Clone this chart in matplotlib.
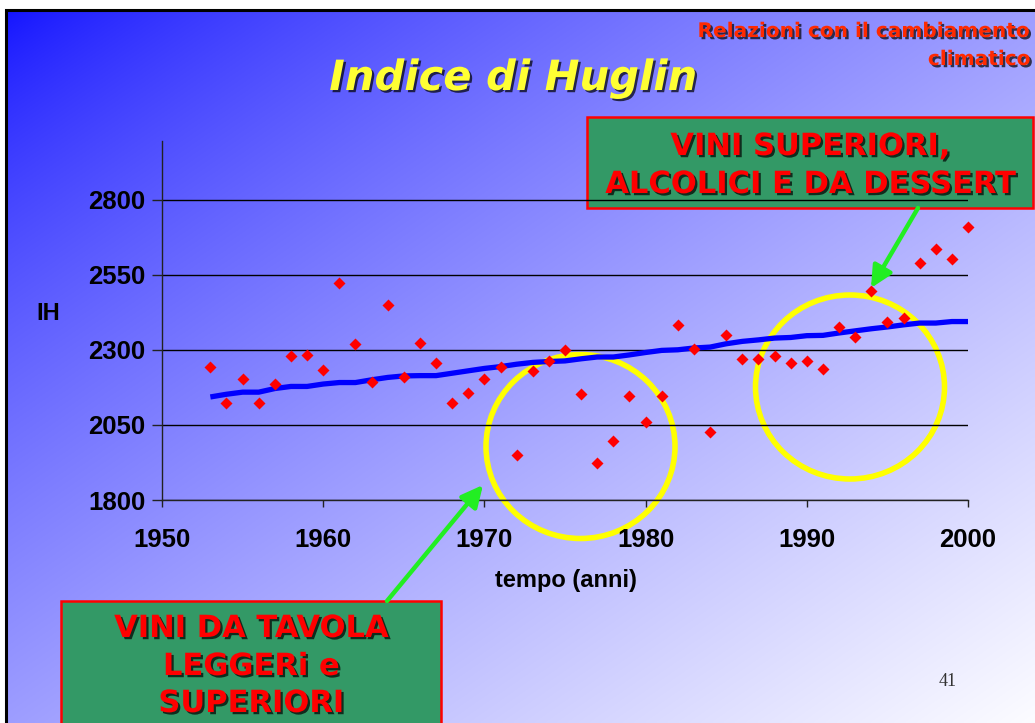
import matplotlib
matplotlib.use("Agg")
import matplotlib.pyplot as plt
import matplotlib.patheffects as pe
from matplotlib.patches import Rectangle, Ellipse, FancyArrowPatch
import numpy as np

# data
years = list(range(1953, 2001))
ih_values = [2243, 2123, 2203, 2123, 2187, 2280, 2282, 2232, 2523, 2320,
             2193, 2450, 2210, 2323, 2257, 2123, 2155, 2203, 2242, 1950,
             2231, 2264, 2298, 2153, 1923, 1997, 2145, 2058, 2146, 2383,
             2303, 2027, 2350, 2270, 2270, 2280, 2257, 2264, 2237, 2377,
             2343, 2497, 2393, 2407, 2590, 2637, 2603, 2710]
ih_trend = [2143, 2152, 2159, 2159, 2171, 2178, 2178, 2186, 2191, 2191,
            2200, 2208, 2213, 2214, 2214, 2222, 2230, 2238, 2244, 2252,
            2258, 2261, 2263, 2270, 2276, 2276, 2283, 2291, 2298, 2300,
            2306, 2309, 2320, 2328, 2333, 2339, 2341, 2347, 2348, 2356,
            2363, 2370, 2376, 2383, 2389, 2389, 2394, 2394]
x_ticks = [1950, 1960, 1970, 1980, 1990, 2000]
y_ticks = [1800, 2050, 2300, 2550, 2800]

W, H = 1035, 723


def fx(px):
    return px / W


def fy(py):
    return 1 - py / H


fig = plt.figure(figsize=(W / 100, H / 100), dpi=100)
fig.patch.set_facecolor('white')

# slide background: diagonal gradient blue -> white
bg = fig.add_axes([fx(5), 0, 1 - fx(5), fy(9)], zorder=-10)
gx = np.linspace(0, 1, 400)[None, :]
gy = np.linspace(0, 1, 300)[:, None]
t = np.clip((gx + gy) / 2, 0, 1) ** 0.75
c0 = np.array([18, 18, 255]) / 255
c1 = np.array([252, 252, 255]) / 255
img = c0[None, None, :] + (c1 - c0)[None, None, :] * t[:, :, None]
bg.imshow(img, aspect='auto', extent=[0, 1, 1, 0], interpolation='bilinear')
bg.set_axis_off()
fig.add_artist(Rectangle((fx(6), -0.05), 1.1, fy(10) + 0.05, transform=fig.transFigure,
                         fill=False, edgecolor='black', lw=2.2, zorder=-9))

# yellow circles and the top box sit under the chart
for cx, cy in [(580.5, 446.5), (850, 387)]:
    fig.add_artist(Ellipse((fx(cx), fy(cy)), 189 / W, 184 / H, transform=fig.transFigure,
                           fill=False, edgecolor='#ffff00', lw=4, zorder=-5))
fig.add_artist(Rectangle((fx(587), fy(208)), (1033 - 587) / W, (208 - 117) / H,
                         transform=fig.transFigure, facecolor='#339966',
                         edgecolor='#ff0000', lw=1.8, zorder=-5))
fig.add_artist(Rectangle((fx(61), fy(760)), (441 - 61) / W, (760 - 601) / H,
                         transform=fig.transFigure, facecolor='#339966',
                         edgecolor='#ff0000', lw=1.8, zorder=-5))

# main chart
ax = fig.add_axes([fx(162), fy(500), (968 - 162) / W, (500 - 141) / H])
ax.patch.set_alpha(0)
ax.plot(years, ih_trend, color='#0000ff', lw=3.8, solid_capstyle='butt', zorder=3)
ax.plot(years, ih_values, ls='none', marker='D', ms=6, color='#ff0000',
        mec='none', zorder=4, clip_on=False)
ax.set_xlim(1950, 2000)
ax.set_ylim(1800, 2995)
ax.set_xticks(x_ticks)
ax.set_yticks(y_ticks)
ax.yaxis.grid(True, color='black', lw=1)
ax.set_axisbelow(True)
for s in ['top', 'right']:
    ax.spines[s].set_visible(False)
for s in ['left', 'bottom']:
    ax.spines[s].set_color('#222222')
    ax.spines[s].set_linewidth(1)
ax.tick_params(axis='x', direction='out', length=5, width=1, pad=15, colors='#222222')
ax.tick_params(axis='y', direction='out', length=7, width=1, pad=5, colors='#222222')
for lab in ax.get_xticklabels() + ax.get_yticklabels():
    lab.set_fontfamily('Liberation Sans')
    lab.set_fontweight('bold')
    lab.set_fontsize(18.5)
    lab.set_color('black')

fig.text(fx(48), fy(313), 'IH', ha='center', va='center', fontsize=17,
         fontweight='bold', family='Liberation Sans')
fig.text(fx(566), fy(580), 'tempo (anni)', ha='center', va='center', fontsize=17,
         fontweight='bold', family='Liberation Sans')

shadow = [pe.SimplePatchShadow(offset=(1.6, -1.6), shadow_rgbFace='black', alpha=0.7),
          pe.Normal()]

# title and header
fig.text(fx(513), fy(90), 'Indice di Huglin', ha='center', va='baseline', fontsize=30,
         fontweight='bold', style='oblique', color='#ffff33', family='DejaVu Sans',
         path_effects=shadow)
fig.text(fx(1031), fy(37), 'Relazioni con il cambiamento', ha='right', va='baseline',
         fontsize=14.5, fontweight='bold', color='#ff2a00', family='DejaVu Sans',
         path_effects=shadow)
fig.text(fx(1031), fy(65), 'climatico', ha='right', va='baseline',
         fontsize=14.5, fontweight='bold', color='#ff2a00', family='DejaVu Sans',
         path_effects=shadow)

# box labels
for txt, yb in [('VINI SUPERIORI,', 155), ('ALCOLICI E DA DESSERT', 193)]:
    fig.text(fx(810), fy(yb), txt, ha='center', va='baseline', fontsize=22,
             fontweight='bold', color='#ff0000', family='DejaVu Sans', path_effects=shadow)
for txt, yb in [('VINI DA TAVOLA', 637), ('LEGGERi e', 675), ('SUPERIORI', 712)]:
    fig.text(fx(251), fy(yb), txt, ha='center', va='baseline', fontsize=22,
             fontweight='bold', color='#ff0000', family='DejaVu Sans', path_effects=shadow)

# green arrows
for (x0, y0), (x1, y1) in [((387, 601), (483, 485)), ((918, 208), (871, 288))]:
    fig.add_artist(FancyArrowPatch((fx(x0), fy(y0)), (fx(x1), fy(y1)),
                                   transform=fig.transFigure,
                                   arrowstyle='-|>,head_length=0.65,head_width=0.32',
                                   mutation_scale=20, color='#22ee22', lw=3.2,
                                   shrinkA=0, shrinkB=0, zorder=6))

fig.text(fx(948), fy(682), '41', ha='center', va='center', fontsize=13,
         family='Liberation Serif', color='#333333')

fig.savefig('out.png', dpi=100)
